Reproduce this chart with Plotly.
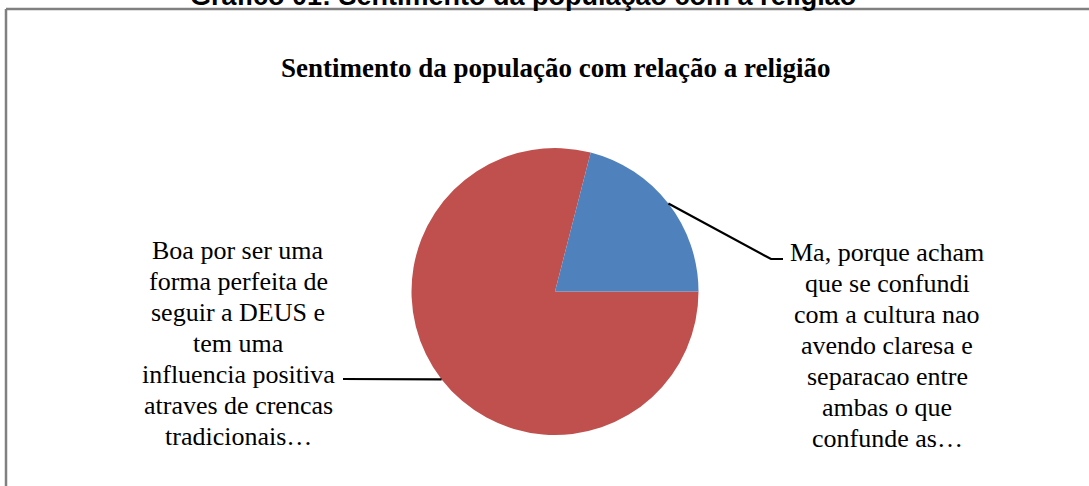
import math
import plotly.graph_objects as go

# ---- data ----
categories = [
    "Boa por ser uma forma perfeita de seguir a DEUS e tem uma influencia positiva atraves de crencas tradicionais…",
    "Ma, porque acham que se confundi com a cultura nao avendo claresa e separacao entre ambas o que confunde as…",
]
values = [79, 21]
colors = ["#C0504D", "#4F81BD"]
label_lines = [
    ["Boa por ser uma", "forma perfeita de", "seguir a DEUS e", "tem uma",
     "influencia positiva", "atraves de crencas", "tradicionais…"],
    ["Ma, porque acham", "que se confundi", "com a cultura nao", "avendo claresa e",
     "separacao entre", "ambas o que", "confunde as…"],
]
chart_title = "Sentimento da população com relação a religião"
doc_caption = "Gráfico 01: Sentimento da população com a religião"

W, H = 1089, 486
CX, CY, R = 555, 291.5, 143.5
ROTATION = 90


def px(x):
    return x / W


def py(y):
    return 1 - y / H


fig = go.Figure()
fig.add_trace(go.Pie(
    labels=categories,
    values=values,
    marker=dict(colors=colors, line=dict(width=0)),
    sort=False,
    direction="clockwise",
    rotation=ROTATION,
    textinfo="none",
    hoverinfo="label+percent",
    showlegend=False,
    domain=dict(x=[px(CX - R), px(CX + R)], y=[py(CY + R), py(CY - R)]),
))

# leader line anchors from slice mid-angles
total = sum(values)
mid_angles = []
acc = ROTATION
for v in values:
    span = 360 * v / total
    mid_angles.append(acc + span / 2)
    acc += span

# label block layout: (center x, first line y, elbow point, end point)
label_layout = [
    dict(cx=238, y0=250, elbow=None, end=(343, 379)),
    dict(cx=887, y0=252, elbow=(771, 259), end=(783, 259)),
]
pitch = 31

shapes = []
annotations = []
for i, ang in enumerate(mid_angles):
    a = math.radians(ang)
    sx = CX + R * math.sin(a)
    sy = CY - R * math.cos(a)
    lay = label_layout[i]
    pts = [(sx, sy)]
    if lay["elbow"]:
        pts.append(lay["elbow"])
    pts.append(lay["end"])
    path = "M " + " L ".join(f"{px(x):.5f},{py(y):.5f}" for x, y in pts)
    shapes.append(dict(type="path", xref="paper", yref="paper", path=path,
                       line=dict(color="black", width=2.2)))
    for j, t in enumerate(label_lines[i]):
        annotations.append(dict(
            text=t, x=px(lay["cx"]), y=py(lay["y0"] + j * pitch),
            xref="paper", yref="paper", xanchor="center", yanchor="middle",
            showarrow=False,
            font=dict(family="Liberation Serif, Times New Roman, serif", size=26, color="black"),
        ))

# chart title
annotations.append(dict(
    text=f"<b>{chart_title}</b>", x=px(555), y=py(68), xref="paper", yref="paper",
    xanchor="center", yanchor="middle", showarrow=False,
    font=dict(family="Liberation Serif, Times New Roman, serif", size=27, color="black"),
))
# document caption (cut off at top, as in the reference)
annotations.append(dict(
    text=f"<b>{doc_caption}</b>", x=px(523), y=py(-4), xref="paper", yref="paper",
    xanchor="center", yanchor="middle", showarrow=False,
    font=dict(family="Liberation Sans, Arial, sans-serif", size=27, color="black"),
))

# chart area border (top and left visible)
shapes.append(dict(type="line", xref="paper", yref="paper",
                   x0=px(6), x1=px(W + 5), y0=py(9), y1=py(9),
                   line=dict(color="#808080", width=2.5)))
shapes.append(dict(type="line", xref="paper", yref="paper",
                   x0=px(6), x1=px(6), y0=py(9), y1=py(H + 5),
                   line=dict(color="#808080", width=2.5)))

fig.update_layout(
    width=W, height=H, autosize=False,
    margin=dict(l=0, r=0, t=0, b=0),
    paper_bgcolor="white", plot_bgcolor="white",
    shapes=shapes, annotations=annotations,
)

fig.write_html(
    "out.html",
    config={"displayModeBar": False},
    post_script="document.body.style.margin='0';document.body.style.overflow='hidden';",
)
